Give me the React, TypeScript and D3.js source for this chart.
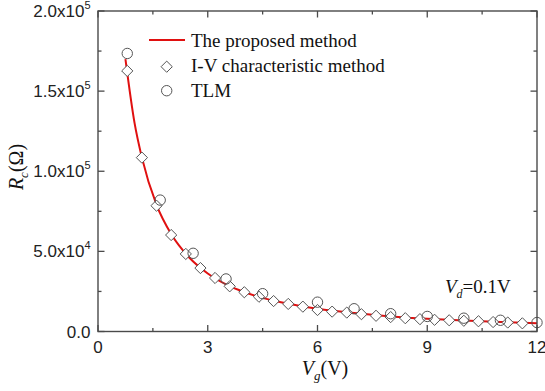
import React from "react";
import * as d3 from "d3";

// ---------- data ----------
const ivVg = [0.8, 1.2, 1.6, 2.0, 2.4, 2.8, 3.2, 3.6, 4.0, 4.4, 4.8, 5.2, 5.6, 6.0, 6.4, 6.8, 7.2, 7.6, 8.0, 8.4, 8.8, 9.2, 9.6, 10.0, 10.4, 10.8, 11.2, 11.6];
const ivRc = [162600, 108500, 78500, 60200, 48400, 39600, 33400, 28200, 24500, 21700, 19000, 17200, 15500, 13400, 12400, 11800, 10800, 9800, 9000, 8300, 7700, 7300, 7000, 6700, 6400, 5900, 5600, 5100];

const tlmVg = [0.8, 1.7, 2.6, 3.5, 4.5, 6.0, 7.0, 8.0, 9.0, 10.0, 11.0, 12.0];
const tlmRc = [173500, 82000, 48800, 32800, 23600, 18300, 14200, 11100, 9400, 8300, 7000, 5600];

const fitVg = [0.75, 1.0, 1.2, 1.6, 2.0, 2.5, 3.0, 3.5, 4.0, 4.5, 5.0, 5.5, 6.0, 7.0, 8.0, 9.0, 10.0, 11.0, 12.0];
const fitRc = [170000, 130000, 108500, 79000, 60800, 46000, 36200, 29400, 24600, 21000, 18200, 16000, 14200, 11500, 9400, 7900, 6800, 5900, 5200];

const xTicks = [0, 3, 6, 9, 12];
const xMinorTicks = [1.5, 4.5, 7.5, 10.5];
const yTicks = [0, 50000, 100000, 150000, 200000];
const yMinorTicks = [25000, 75000, 125000, 175000];
const yTickLabels = ["0.0", "5.0x10^4", "1.0x10^5", "1.5x10^5", "2.0x10^5"];

const legendLabels = ["The proposed method", "I-V characteristic method", "TLM"];

// ---------- layout ----------
const W = 545;
const H = 391;
const X0 = 98, X1 = 537, Y0 = 331.5, Y1 = 11;
const axisColor = "#4a4a4a";
const markColor = "#555555";
const red = "#e01010";
const sansFont = "Liberation Sans, Arial, sans-serif";
const serifFont = "Liberation Serif, Times New Roman, serif";

const x = d3.scaleLinear().domain([0, 12]).range([X0, X1]);
const y = d3.scaleLinear().domain([0, 200000]).range([Y0, Y1]);

const Diamond = ({ cx, cy, r = 5.6 }: { cx: number; cy: number; r?: number }) => (
  <path
    d={`M${cx},${cy - r}L${cx + r},${cy}L${cx},${cy + r}L${cx - r},${cy}Z`}
    fill="white"
    stroke={markColor}
    strokeWidth={1}
  />
);

const Circle = ({ cx, cy, r = 5.2 }: { cx: number; cy: number; r?: number }) => (
  <circle cx={cx} cy={cy} r={r} fill="none" stroke={markColor} strokeWidth={1} />
);

export default function App() {
  const line = d3
    .line<number>()
    .x((_, i) => x(fitVg[i]))
    .y((d) => y(d))
    .curve(d3.curveMonotoneX);

  const fitPath = line(fitRc) || "";

  const tickLabel = (s: string, ty: number, i: number) => {
    const parts = s.split("^");
    return (
      <text key={"yl" + i} x={90.5} y={ty + 6} textAnchor="end" fontFamily={sansFont} fontSize={17} fill="#222">
        {parts[0]}
        {parts[1] ? (
          <tspan fontSize={11} dy={-8}>
            {parts[1]}
          </tspan>
        ) : null}
      </text>
    );
  };

  return (
    <div style={{ position: "absolute", left: 0, top: 0 }}>
      <svg width={W} height={H} viewBox={`0 0 ${W} ${H}`} style={{ display: "block", background: "white" }}>
        <rect x={0} y={0} width={W} height={H} fill="white" />

        {/* fit line */}
        <path d={fitPath} fill="none" stroke={red} strokeWidth={2} />

        {/* I-V diamonds */}
        {ivVg.map((v, i) => (
          <Diamond key={"d" + i} cx={x(v)} cy={y(ivRc[i])} />
        ))}
        {/* TLM circles */}
        {tlmVg.map((v, i) => (
          <Circle key={"c" + i} cx={x(v)} cy={y(tlmRc[i])} />
        ))}

        {/* frame */}
        <rect x={X0} y={Y1} width={X1 - X0} height={Y0 - Y1} fill="none" stroke={axisColor} strokeWidth={1.4} />

        {/* x ticks bottom & top */}
        {xTicks.map((t, i) => (
          <g key={"xt" + i}>
            <line x1={x(t)} x2={x(t)} y1={Y0} y2={Y0 - 6.5} stroke={axisColor} strokeWidth={1.3} />
            <line x1={x(t)} x2={x(t)} y1={Y1} y2={Y1 + 6.5} stroke={axisColor} strokeWidth={1.3} />
            <text x={x(t)} y={353} textAnchor="middle" fontFamily={sansFont} fontSize={17} fill="#222">
              {t}
            </text>
          </g>
        ))}
        {xMinorTicks.map((t, i) => (
          <g key={"xm" + i}>
            <line x1={x(t)} x2={x(t)} y1={Y0} y2={Y0 - 3.5} stroke={axisColor} strokeWidth={1.3} />
            <line x1={x(t)} x2={x(t)} y1={Y1} y2={Y1 + 3.5} stroke={axisColor} strokeWidth={1.3} />
          </g>
        ))}

        {/* y ticks left & right */}
        {yTicks.map((t, i) => (
          <g key={"yt" + i}>
            <line x1={X0} x2={X0 + 6.5} y1={y(t)} y2={y(t)} stroke={axisColor} strokeWidth={1.3} />
            <line x1={X1} x2={X1 - 6.5} y1={y(t)} y2={y(t)} stroke={axisColor} strokeWidth={1.3} />
            {tickLabel(yTickLabels[i], y(t), i)}
          </g>
        ))}
        {yMinorTicks.map((t, i) => (
          <g key={"ym" + i}>
            <line x1={X0} x2={X0 + 3.5} y1={y(t)} y2={y(t)} stroke={axisColor} strokeWidth={1.3} />
            <line x1={X1} x2={X1 - 3.5} y1={y(t)} y2={y(t)} stroke={axisColor} strokeWidth={1.3} />
          </g>
        ))}

        {/* legend */}
        <line x1={149} x2={185} y1={40} y2={40} stroke={red} strokeWidth={2} />
        <Diamond cx={166.7} cy={66.7} />
        <Circle cx={166.7} cy={90.7} />
        {legendLabels.map((s, i) => (
          <text key={"lg" + i} x={191} y={46.5 + i * 25} fontFamily={serifFont} fontSize={19} fill="#111">
            {s}
          </text>
        ))}

        {/* Vd annotation */}
        <text x={445} y={293} fontFamily={serifFont} fontSize={19} fill="#111">
          <tspan fontStyle="italic">V</tspan>
          <tspan fontStyle="italic" fontSize={12} dy={5}>
            d
          </tspan>
          <tspan dy={-5}>=0.1V</tspan>
        </text>

        {/* x axis title */}
        <text x={325} y={375} textAnchor="middle" fontFamily={serifFont} fontSize={20} fill="#111">
          <tspan fontStyle="italic">V</tspan>
          <tspan fontStyle="italic" fontSize={13} dy={5}>
            g
          </tspan>
          <tspan dy={-5}>(V)</tspan>
        </text>

        {/* y axis title */}
        <text
          transform="translate(23,167) rotate(-90)"
          textAnchor="middle"
          fontFamily={serifFont}
          fontSize={20}
          fill="#111"
        >
          <tspan fontStyle="italic">R</tspan>
          <tspan fontStyle="italic" fontSize={13} dy={5}>
            c
          </tspan>
          <tspan dy={-5}>(Ω)</tspan>
        </text>
      </svg>
    </div>
  );
}
